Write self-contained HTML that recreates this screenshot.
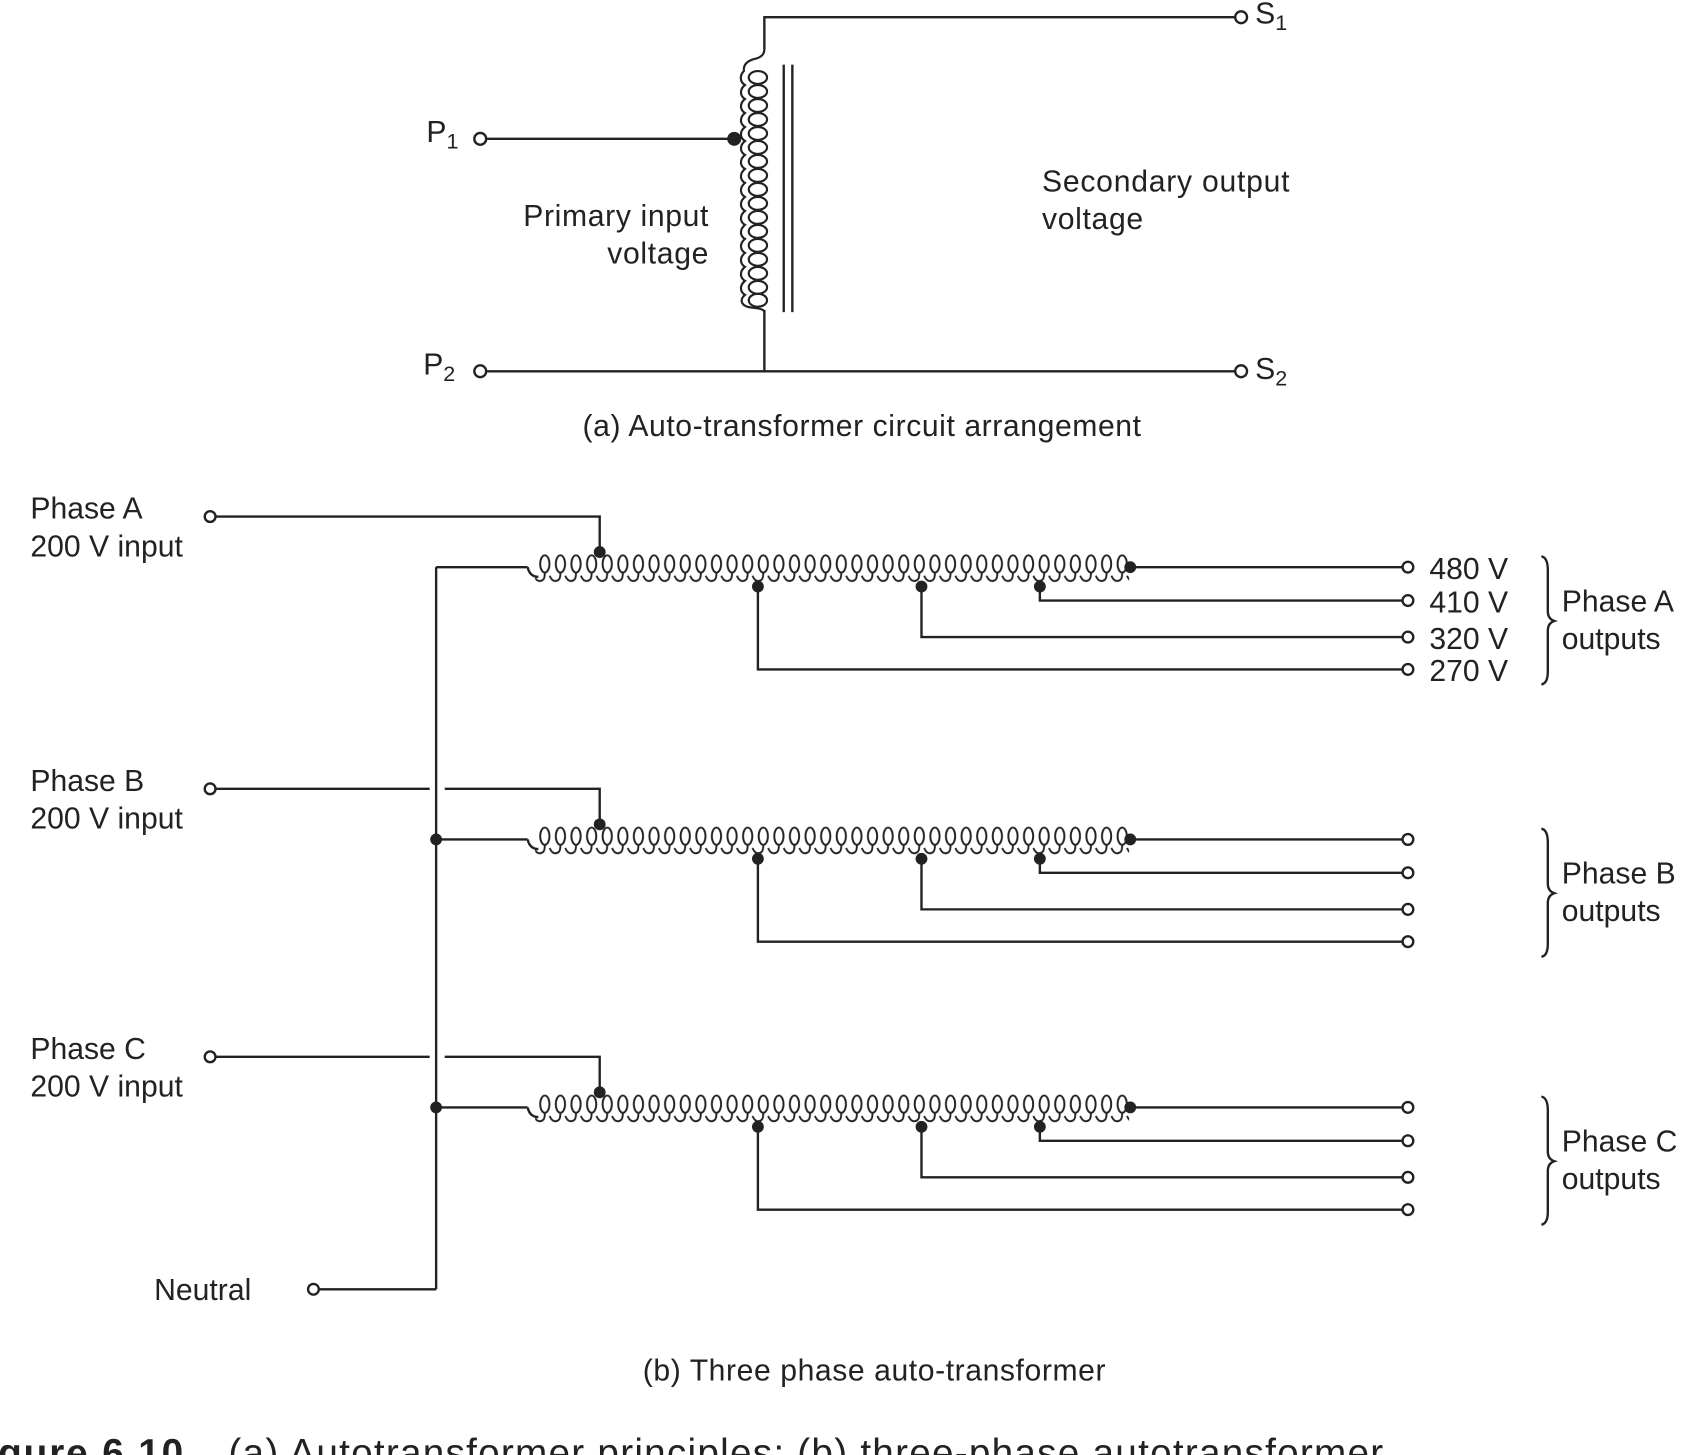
<!DOCTYPE html>
<html><head><meta charset="utf-8"><style>
html,body{margin:0;padding:0;background:#fff;}
svg{display:block;}
text{font-family:"Liberation Sans",sans-serif;fill:#222;}
</style></head><body>
<svg width="1688" height="1455" viewBox="0 0 1568 1352" xmlns="http://www.w3.org/2000/svg">
<defs>
<pattern id="coilH" patternUnits="userSpaceOnUse" x="497" y="512" width="14.5" height="30">
<g stroke="#222" stroke-width="1.8" fill="none">
<ellipse cx="9" cy="12" rx="4.3" ry="8"/>
<path d="M-1,23 Q2,30 7,27 Q9,26 9,20"/>
<path d="M13.5,23 Q16.5,30 21.5,27"/>
</g>
</pattern>
</defs>
<g stroke="#222" stroke-width="2.2" fill="none">
<polyline points="1148,16 710,16 710,46"/>
<line x1="728" y1="60" x2="728" y2="290"/>
<line x1="736" y1="60" x2="736" y2="290"/>
<line x1="451" y1="129" x2="682" y2="129"/>
<line x1="451" y1="345" x2="1148" y2="345"/>
<line x1="710" y1="288" x2="710" y2="345"/>
<circle cx="446" cy="129" r="5.5"/>
<circle cx="446" cy="345" r="5.5"/>
<circle cx="1153" cy="16" r="5.5"/>
<circle cx="1153" cy="345" r="5.5"/>
</g>
<g stroke="#222" stroke-width="2" fill="none">
<path d="M710,46 Q710,53 700,55 Q690,58 691,66
 C687,70 687,76 692,79 C687,83 687,89 692,92 C687,96 687,102 692,105 C687,109 687,115 692,118 C687,122 687,128 692,131 C687,135 687,141 692,144 C687,148 687,154 692,157 C687,161 687,167 692,170 C687,174 687,180 692,183 C687,187 687,193 692,196 C687,200 687,206 692,209 C687,213 687,219 692,222 C687,226 687,232 692,235 C687,239 687,245 692,248 C687,252 687,258 692,261 C687,265 687,271 692,274 C687,278 687,285 700,286 Q710,287 710,290"/>
<ellipse cx="704" cy="72" rx="8.5" ry="6"/><ellipse cx="704" cy="85" rx="8.5" ry="6"/><ellipse cx="704" cy="98" rx="8.5" ry="6"/><ellipse cx="704" cy="111" rx="8.5" ry="6"/><ellipse cx="704" cy="124" rx="8.5" ry="6"/><ellipse cx="704" cy="137" rx="8.5" ry="6"/><ellipse cx="704" cy="150" rx="8.5" ry="6"/><ellipse cx="704" cy="163" rx="8.5" ry="6"/><ellipse cx="704" cy="176" rx="8.5" ry="6"/><ellipse cx="704" cy="189" rx="8.5" ry="6"/><ellipse cx="704" cy="202" rx="8.5" ry="6"/><ellipse cx="704" cy="215" rx="8.5" ry="6"/><ellipse cx="704" cy="228" rx="8.5" ry="6"/><ellipse cx="704" cy="241" rx="8.5" ry="6"/><ellipse cx="704" cy="254" rx="8.5" ry="6"/><ellipse cx="704" cy="267" rx="8.5" ry="6"/><ellipse cx="704" cy="279" rx="8.5" ry="6"/>
</g>
<circle cx="682" cy="129" r="6.5" fill="#222"/>
<g font-size="28">
<text x="396" y="132">P<tspan font-size="20" dy="6">1</tspan></text>
<text x="393" y="348">P<tspan font-size="20" dy="6">2</tspan></text>
<text x="1166" y="22">S<tspan font-size="20" dy="6">1</tspan></text>
<text x="1166" y="352">S<tspan font-size="20" dy="6">2</tspan></text>
<text x="486" y="210" textLength="172">Primary input</text>
<text x="564" y="245" textLength="94">voltage</text>
<text x="968" y="178" textLength="230">Secondary output</text>
<text x="968" y="213" textLength="94">voltage</text>
<text x="541" y="405" textLength="519">(a) Auto-transformer circuit arrangement</text>
</g>

<g id="phA">
<g stroke="#222" stroke-width="2.2" fill="none">
<polyline points="200,480 557,480 557,510"/>
<line x1="405" y1="527" x2="490" y2="527"/>
<path d="M490,527 Q492,536 500,536"/>
<line x1="1050" y1="527" x2="1303" y2="527"/>
<polyline points="966,545 966,558 1303,558"/>
<polyline points="856,545 856,592 1303,592"/>
<polyline points="704,545 704,622 1303,622"/>
<circle cx="195" cy="480" r="5"/>
<circle cx="1308" cy="527" r="5"/><circle cx="1308" cy="558" r="5"/><circle cx="1308" cy="592" r="5"/><circle cx="1308" cy="622" r="5"/>
<path d="M1432,517 Q1438,518 1438,530 L1438,568 Q1438,575 1444,577 Q1438,579 1438,586 L1438,624 Q1438,635 1432,636"/>
</g>
<rect x="497" y="512" width="552" height="30" fill="url(#coilH)"/>
<g fill="#222"><circle cx="557" cy="513" r="5.5"/><circle cx="1050" cy="527" r="5.5"/><circle cx="704" cy="545" r="5.5"/><circle cx="856" cy="545" r="5.5"/><circle cx="966" cy="545" r="5.5"/></g>
</g>
<use href="#phA" transform="translate(0,253)"/>
<use href="#phA" transform="translate(0,502)"/>
<g stroke="#fff" stroke-width="4"><line x1="399" y1="733" x2="413" y2="733"/><line x1="399" y1="982" x2="413" y2="982"/></g>
<g stroke="#222" stroke-width="2.2" fill="none">
<line x1="405" y1="527" x2="405" y2="1198"/>
<line x1="296" y1="1198" x2="405" y2="1198"/>
<circle cx="291" cy="1198" r="5"/>
</g>
<g fill="#222"><circle cx="405" cy="780" r="5.5"/><circle cx="405" cy="1029" r="5.5"/></g>
<g font-size="28">
<text x="28" y="482">Phase A</text><text x="28" y="517">200 V input</text>
<text x="28" y="735">Phase B</text><text x="28" y="770">200 V input</text>
<text x="28" y="984">Phase C</text><text x="28" y="1019">200 V input</text>
<text x="143" y="1208">Neutral</text>
<text x="1328" y="538">480 V</text><text x="1328" y="569">410 V</text><text x="1328" y="603">320 V</text><text x="1328" y="633">270 V</text>
<text x="1451" y="568">Phase A</text><text x="1451" y="603">outputs</text>
<text x="1451" y="821">Phase B</text><text x="1451" y="856">outputs</text>
<text x="1451" y="1070">Phase C</text><text x="1451" y="1105">outputs</text>
<text x="597" y="1283" textLength="430">(b) Three phase auto-transformer</text>
</g>
<text x="-2" y="1362" font-size="36" font-weight="bold" textLength="172">gure 6.10</text>
<text x="212" y="1362" font-size="36" textLength="1073">(a) Autotransformer principles; (b) three-phase autotransformer</text>
</svg>
</body></html>
